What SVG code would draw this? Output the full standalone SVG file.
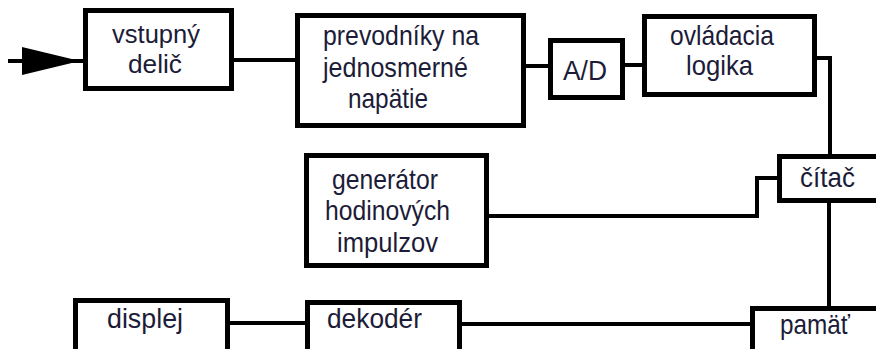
<svg xmlns="http://www.w3.org/2000/svg" width="876" height="349" viewBox="0 0 876 349">
<style>
.box{fill:#fff;stroke:#000;stroke-width:5}
.c{fill:none;stroke:#000;stroke-width:4}
text{font-family:"Liberation Sans",Arial,sans-serif;font-size:28px;fill:#1c1c38}
.s{font-size:26px}
</style>
<rect width="876" height="349" fill="#fff"/>
<g id="connectors">
<line class="c" x1="8" y1="61" x2="83" y2="61"/>
<polygon points="22,47 80,61 22,75" fill="#000"/>
<line class="c" x1="234" y1="60" x2="295" y2="60"/>
<line class="c" x1="526" y1="66" x2="548" y2="66"/>
<line class="c" x1="625" y1="65" x2="642" y2="65"/>
<polyline class="c" points="817,58 830,58 830,154"/>
<polyline class="c" points="489,216 757,216 757,178 777,178"/>
<line class="c" x1="829" y1="203" x2="829" y2="306"/>
<line class="c" x1="230" y1="323" x2="305" y2="323"/>
<line class="c" x1="462" y1="324" x2="750" y2="324"/>
</g>
<g id="vstupny-delic">
<rect class="box" x="85.5" y="10.5" width="146" height="78"/>
<text class="s" x="112" y="43" textLength="88" lengthAdjust="spacingAndGlyphs">vstupný</text>
<text class="s" x="128" y="73" textLength="54" lengthAdjust="spacingAndGlyphs">delič</text>
</g>
<g id="prevodniky">
<rect class="box" x="297.5" y="15.5" width="226" height="110"/>
<text x="323" y="45" textLength="156" lengthAdjust="spacingAndGlyphs">prevodníky na</text>
<text x="323" y="77" textLength="145" lengthAdjust="spacingAndGlyphs">jednosmerné</text>
<text x="348" y="108" textLength="80" lengthAdjust="spacingAndGlyphs">napätie</text>
</g>
<g id="ad">
<rect class="box" x="550.5" y="40.5" width="72" height="57"/>
<text x="563" y="80" textLength="44" lengthAdjust="spacingAndGlyphs">A/D</text>
</g>
<g id="ovladacia-logika">
<rect class="box" x="644.5" y="16.5" width="170" height="78"/>
<text x="670" y="45" textLength="104" lengthAdjust="spacingAndGlyphs">ovládacia</text>
<text x="686" y="75" textLength="67" lengthAdjust="spacingAndGlyphs">logika</text>
</g>
<g id="citac">
<rect class="box" x="779.5" y="156.5" width="100" height="44"/>
<text x="800" y="187" textLength="55" lengthAdjust="spacingAndGlyphs">čítač</text>
</g>
<g id="generator">
<rect class="box" x="306.5" y="155.5" width="180" height="110"/>
<text x="332" y="189" textLength="106" lengthAdjust="spacingAndGlyphs">generátor</text>
<text x="325" y="220" textLength="125" lengthAdjust="spacingAndGlyphs">hodinových</text>
<text x="337" y="252" textLength="101" lengthAdjust="spacingAndGlyphs">impulzov</text>
</g>
<g id="displej">
<rect class="box" x="75.5" y="300.5" width="152" height="60"/>
<text x="107" y="328" textLength="76" lengthAdjust="spacingAndGlyphs">displej</text>
</g>
<g id="dekoder">
<rect class="box" x="307.5" y="302.5" width="152" height="60"/>
<text x="327" y="328" textLength="95" lengthAdjust="spacingAndGlyphs">dekodér</text>
</g>
<g id="pamat">
<rect class="box" x="752.5" y="308.5" width="130" height="60"/>
<text x="780" y="334" textLength="70" lengthAdjust="spacingAndGlyphs">pamäť</text>
</g>
</svg>
